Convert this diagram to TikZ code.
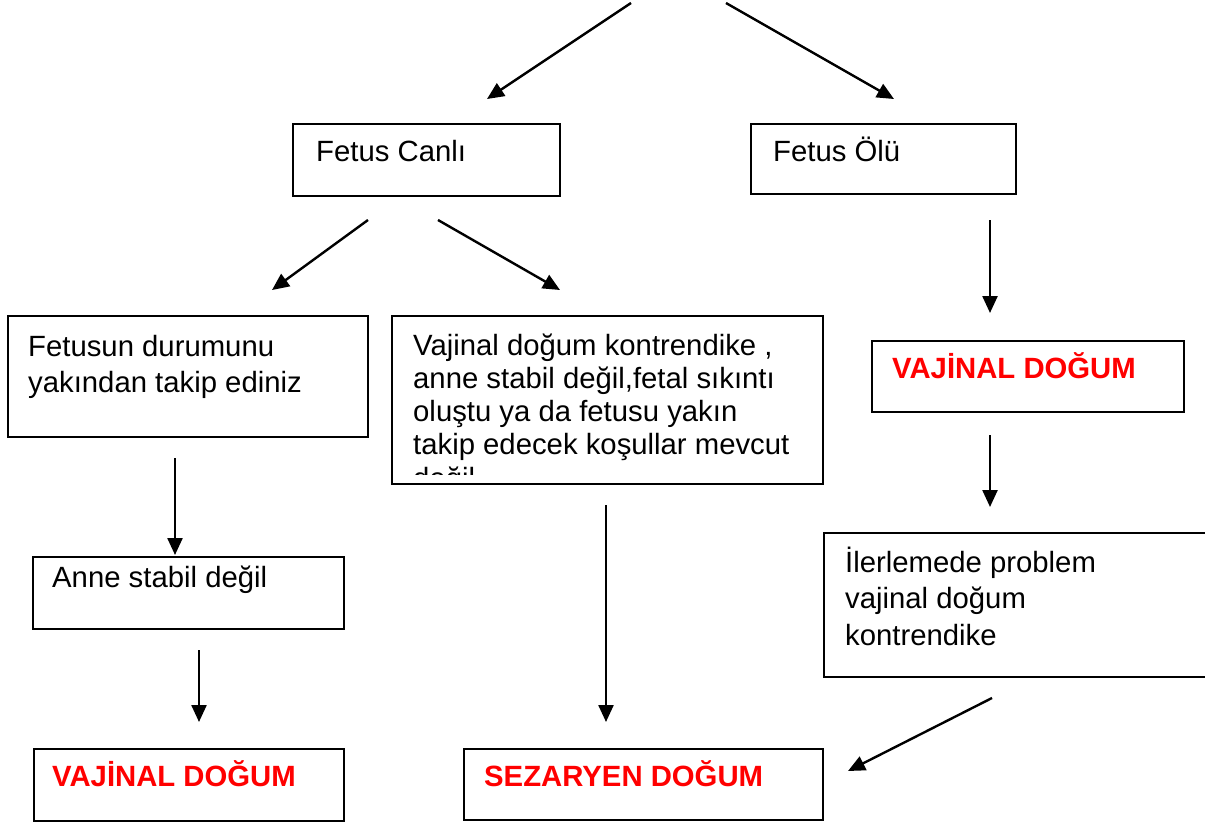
\documentclass[tikz,border=0pt]{standalone}
\usepackage{fontspec}
\setmainfont{Liberation Sans}
\usetikzlibrary{arrows.meta}
\definecolor{alarmred}{RGB}{255,0,0}
\begin{document}
\begin{tikzpicture}[x=1pt,y=-1pt,
  box/.style={draw, line width=2.2pt, rectangle, inner sep=0pt, anchor=north west},
  txt/.style={anchor=base west, inner sep=0pt, align=left, font=\fontsize{29.3}{34}\selectfont},
  redtxt/.style={anchor=base west, inner sep=0pt, text=alarmred, font=\bfseries\fontsize{29.3}{34}\selectfont},
  flow/.style={-{Triangle[length=17pt,width=15pt]}, line width=2.4pt}
]
\clip (0,0) rectangle (1205,824);

% boxes
\node[box, minimum width=267, minimum height=72]  (canli)  at (292,123) {};
\node[box, minimum width=265, minimum height=70]  (olu)    at (750,123) {};
\node[box, minimum width=360, minimum height=121] (takip)  at (7,315)   {};
\node[box, minimum width=431, minimum height=168] (kontr)  at (391,315) {};
\node[box, minimum width=312, minimum height=71]  (vajR)   at (871,340) {};
\node[box, minimum width=400, minimum height=144] (ilerle) at (823,532) {};
\node[box, minimum width=311, minimum height=72]  (anne)   at (32,556)  {};
\node[box, minimum width=310, minimum height=72]  (vajL)   at (33,748)  {};
\node[box, minimum width=359, minimum height=71]  (sez)    at (463,748) {};

% box texts (multi-line nodes are placed by the baseline of their last line)
\node[txt] (tcanli) at (316,162) {Fetus Canlı};
\node[txt] (tolu)   at (773,162) {Fetus Ölü};
\node[txt, font=\fontsize{29.3}{36}\selectfont] (ttakip) at (28,392) {Fetusun durumunu\\yakından takip ediniz};
\begin{scope}
  \clip (391,315) rectangle (822,474);
  \node[txt, font=\fontsize{29.3}{33.25}\selectfont] (tkontr) at (413,488) {Vajinal doğum kontrendike ,\\anne stabil değil,fetal sıkıntı\\oluştu ya da fetusu yakın\\takip edecek koşullar mevcut\\değil};
\end{scope}
\node[redtxt] (tvajR) at (892,378) {VAJİNAL DOĞUM};
\node[txt, font=\fontsize{29.3}{36.5}\selectfont] (tilerle) at (845,645) {İlerlemede problem\\vajinal doğum\\kontrendike};
\node[txt] (tanne) at (52,587) {Anne stabil değil};
\node[redtxt] (tvajL) at (52,786) {VAJİNAL DOĞUM};
\node[redtxt] (tsez)  at (484,786) {SEZARYEN DOĞUM};

% connector end points
\coordinate (s1) at (631,3);   \coordinate (e1) at (487,99);
\coordinate (s2) at (726,3);   \coordinate (e2) at (894,99);
\coordinate (s3) at (368,220); \coordinate (e3) at (272,290);
\coordinate (s4) at (438,220); \coordinate (e4) at (560,290);
\coordinate (s5) at (990,220); \coordinate (e5) at (990,313);
\coordinate (s6) at (175,458); \coordinate (e6) at (175,555);
\coordinate (s7) at (990,435); \coordinate (e7) at (990,507);
\coordinate (s8) at (199,650); \coordinate (e8) at (199,722);
\coordinate (s9) at (606,505); \coordinate (e9) at (606,722);
\coordinate (s10) at (992,698); \coordinate (e10) at (848,771);

\foreach \i in {1,...,10} \draw[flow] (s\i) -- (e\i);
\end{tikzpicture}
\end{document}
